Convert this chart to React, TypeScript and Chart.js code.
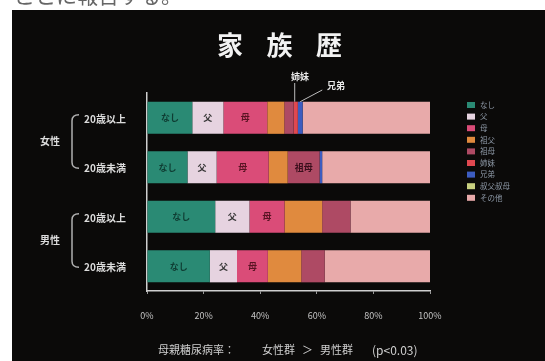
import React, { useEffect, useRef } from "react";
import { Chart, registerables } from "chart.js";

Chart.register(...registerables);

// ---- data ----
const categories = ["20歳以上", "20歳未満", "20歳以上", "20歳未満"];
const groups = ["女性", "男性"];
const seriesNames = ["なし", "父", "母", "祖父", "祖母", "姉妹", "兄弟", "叔父叔母", "その他"];
const nashi = [16, 14.3, 24.1, 22.2];
const chichi = [11, 10.3, 12.1, 9.6];
const haha = [15.5, 18.4, 12.4, 10.9];
const sofu = [6, 6.7, 13.3, 11.8];
const sobo = [3.3, 11.3, 10, 8.3];
const shimai = [1.5, 0, 0, 0];
const kyodai = [1.7, 0.9, 0, 0];
const ojioba = [0, 0, 0, 0];
const sonota = [45, 38.1, 28.1, 37.2];
const seriesValues = [nashi, chichi, haha, sofu, sobo, shimai, kyodai, ojioba, sonota];
const seriesColors = ["#2a8a74", "#e6d3e0", "#da4c78", "#e08a3e", "#ae4a64", "#e04850", "#3c5cc0", "#c8d080", "#e8aaaa"];
const labeledSegments = [["なし", "父", "母"], ["なし", "父", "母", "祖母"], ["なし", "父", "母"], ["なし", "父", "母"]];
const xTicks = [0, 20, 40, 60, 80, 100];
const titleText = "家族歴";
const footerParts = ["母親糖尿病率：", "女性群", "＞", "男性群", "(p<0.03)"];
const calloutShimai = "姉妹";
const calloutKyodai = "兄弟";
const topText = "ことに報告する。";

const JP = '"Noto Sans CJK JP", "Noto Sans", sans-serif';

export default function App() {
  const ref = useRef<HTMLCanvasElement | null>(null);
  useEffect(() => {
    document.body.style.margin = "0";
    const canvas = ref.current!;
    const bgPlugin = {
      id: "bg",
      beforeDraw(chart: any) {
        const ctx = chart.ctx;
        ctx.save();
        ctx.fillStyle = "#ffffff";
        ctx.fillRect(0, 0, chart.width, chart.height);
        ctx.fillStyle = "#666";
        ctx.font = `21px ${JP}`;
        ctx.textBaseline = "alphabetic";
        ctx.textAlign = "left";
        ctx.fillText(topText, 14, 3);
        ctx.fillStyle = "#0b0a09";
        ctx.fillRect(12, 10, chart.width - 12, chart.height - 10);
        ctx.restore();
      },
    };
    const decoPlugin = {
      id: "deco",
      afterDatasetsDraw(chart: any) {
        const ctx = chart.ctx;
        ctx.save();
        ctx.textAlign = "center";
        ctx.textBaseline = "middle";
        ctx.font = `bold 9px ${JP}`;
        chart.data.datasets.forEach((ds: any, di: number) => {
          const meta = chart.getDatasetMeta(di);
          meta.data.forEach((el: any, ri: number) => {
            if (!labeledSegments[ri].includes(ds.label)) return;
            const cx = (el.x + el.base) / 2;
            ctx.fillStyle = di === 0 ? "#0f3d33" : di === 2 ? "#5a1424" : di === 4 ? "#3a0f1c" : "#333";
            ctx.fillText(ds.label, cx, el.y);
          });
        });
        ctx.restore();
      },
      afterDraw(chart: any) {
        const ctx = chart.ctx;
        ctx.save();
        // title
        ctx.fillStyle = "#f2f2f2";
        ctx.font = `bold 26px ${JP}`;
        ctx.textAlign = "center";
        ctx.textBaseline = "middle";
        const chars = Array.from(titleText);
        chars.forEach((c, i) => ctx.fillText(c, 230 + i * 49.5, 45));

        // callouts for row 0
        const shimaiEl = chart.getDatasetMeta(5).data[0];
        const kyodaiEl = chart.getDatasetMeta(6).data[0];
        const top0 = shimaiEl.y - shimaiEl.height / 2;
        ctx.strokeStyle = "#bbb";
        ctx.lineWidth = 1;
        const sx = (shimaiEl.x + shimaiEl.base) / 2 - 1;
        ctx.beginPath();
        ctx.moveTo(sx, top0);
        ctx.lineTo(sx, 83);
        ctx.stroke();
        const kx = (kyodaiEl.x + kyodaiEl.base) / 2;
        ctx.beginPath();
        ctx.moveTo(kx, top0);
        ctx.lineTo(kx + 22, 90);
        ctx.stroke();
        ctx.fillStyle = "#e8e8e8";
        ctx.font = `bold 9px ${JP}`;
        ctx.fillText(calloutShimai, 300, 77);
        ctx.fillText(calloutKyodai, 336, 86);

        // row labels
        const yScale = chart.scales.y;
        ctx.font = `bold 10px ${JP}`;
        ctx.fillStyle = "#dcdcdc";
        categories.forEach((c, i) => {
          const y = yScale.getPixelForValue(i);
          ctx.fillText(c, 105, y + 1);
        });
        // brackets + group labels
        groups.forEach((g, gi) => {
          const y1 = yScale.getPixelForValue(gi * 2) - 3;
          const y2 = yScale.getPixelForValue(gi * 2 + 1) + 1;
          ctx.strokeStyle = "#b0b0b0";
          ctx.lineWidth = 1.5;
          ctx.beginPath();
          ctx.moveTo(79, y1);
          ctx.quadraticCurveTo(72, y1, 72, y1 + 6);
          ctx.lineTo(72, y2 - 6);
          ctx.quadraticCurveTo(72, y2, 79, y2);
          ctx.stroke();
          ctx.fillStyle = "#dcdcdc";
          ctx.fillText(g, 50, (y1 + y2) / 2);
        });

        // legend
        ctx.textAlign = "left";
        ctx.font = `7.5px ${JP}`;
        seriesNames.forEach((n, i) => {
          const y = 105 + i * 11.6;
          ctx.fillStyle = seriesColors[i];
          ctx.fillRect(467, y - 3, 8, 6);
          ctx.fillStyle = "#8f9aa8";
          ctx.fillText(n, 480, y);
        });

        // footer
        ctx.fillStyle = "#cfcfcf";
        ctx.font = `11px ${JP}`;
        const fx = [158, 262, 302, 320, 372];
        footerParts.forEach((p, i) => {
          if (i === 4) ctx.font = `12px ${JP}`;
          ctx.fillText(p, fx[i], 350);
        });
        ctx.restore();
      },
    };

    const chart = new Chart(canvas, {
      type: "bar",
      data: {
        labels: categories,
        datasets: seriesNames.map((n, i) => ({
          label: n,
          data: seriesValues[i],
          backgroundColor: seriesColors[i],
          borderWidth: 0,
          categoryPercentage: 1,
          barPercentage: 0.65,
        })),
      },
      options: {
        indexAxis: "y",
        responsive: false,
        animation: false,
        layout: { padding: { left: 147, right: 115, top: 93, bottom: 0 } },
        plugins: { legend: { display: false }, tooltip: { enabled: false }, title: { display: false } },
        scales: {
          x: {
            stacked: true,
            min: 0,
            max: 100,
            afterFit: (s: any) => {
              s.height = 70;
            },
            afterBuildTicks: (s: any) => {
              s.ticks = xTicks.map((v) => ({ value: v }));
            },
            ticks: {
              callback: (v: any) => v + "%",
              color: "#c4c4c4",
              font: { size: 9, family: JP },
              padding: 16,
              maxRotation: 0,
            },
            grid: { drawOnChartArea: false, color: "#999", tickLength: 3 },
            border: { color: "#cfcfcf", width: 1.5 },
          },
          y: {
            stacked: true,
            afterFit: (s: any) => {
              s.width = 0;
            },
            ticks: { display: false },
            grid: { display: false, drawTicks: false },
            border: { display: true, color: "#cfcfcf", width: 1.5 },
          },
        },
      },
      plugins: [bgPlugin, decoPlugin],
    } as any);
    return () => chart.destroy();
  }, []);
  return (
    <div style={{ width: 545, height: 361 }}>
      <canvas ref={ref} width={545} height={361} style={{ display: "block" }} />
    </div>
  );
}
